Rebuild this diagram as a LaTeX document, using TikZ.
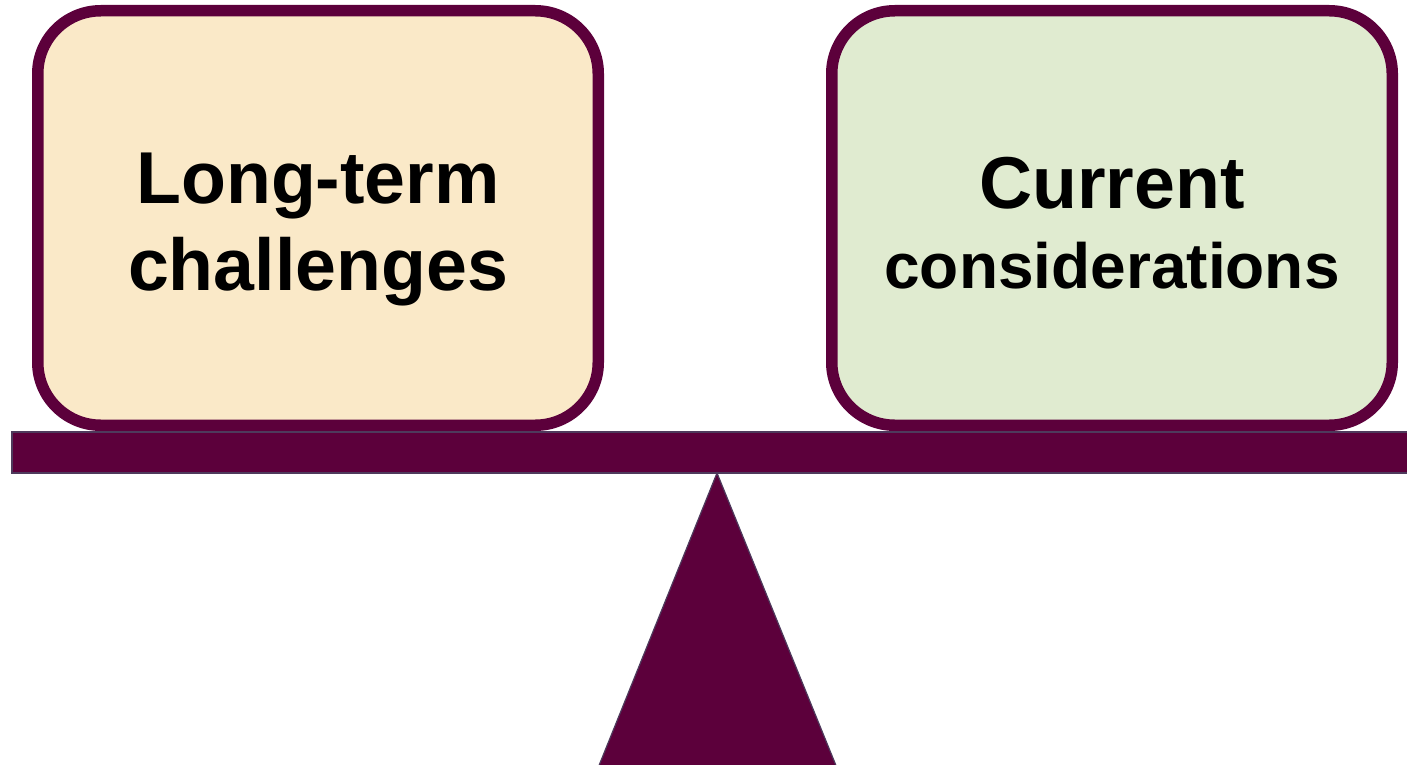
\documentclass[tikz,border=0pt]{standalone}
\usepackage{fontspec}
\setmainfont{Liberation Sans}
\definecolor{plum}{HTML}{5C003B}
\definecolor{edgegray}{HTML}{4E3A5C}
\definecolor{sand}{HTML}{FAE9C8}
\definecolor{sage}{HTML}{E0EBD0}
\tikzset{
  panel/.style={draw=plum, line width=11.5pt, rounded corners=63pt,
    minimum width=560.5pt, minimum height=414.5pt, inner sep=0pt, outer sep=0pt},
  bigtext/.style={anchor=base, inner sep=0pt, font=\bfseries\fontsize{73.5pt}{80pt}\selectfont},
  smalltext/.style={anchor=base, inner sep=0pt, font=\bfseries\fontsize{64pt}{70pt}\selectfont},
  beam/.style={fill=plum, draw=edgegray, line width=1.2pt}
}
\begin{document}
\begin{tikzpicture}[x=1pt,y=-1pt]
\useasboundingbox (0,0) rectangle (1407,765);
\node[panel, fill=sand] (left) at (318,218) {};
\node[panel, fill=sage] (right) at (1112,218) {};
\node[bigtext] (l1) at (318,203) {Long-term};
\node[bigtext] (l2) at (318,290) {challenges};
\node[bigtext] (r1) at (1112,208) {Current};
\node[smalltext] (r2) at (1112,288) {considerations};
\draw[beam] (12,432) rectangle (1415,473);
\draw[beam] (717,473) -- (837,768) -- (598,768) -- cycle;
\end{tikzpicture}
\end{document}
